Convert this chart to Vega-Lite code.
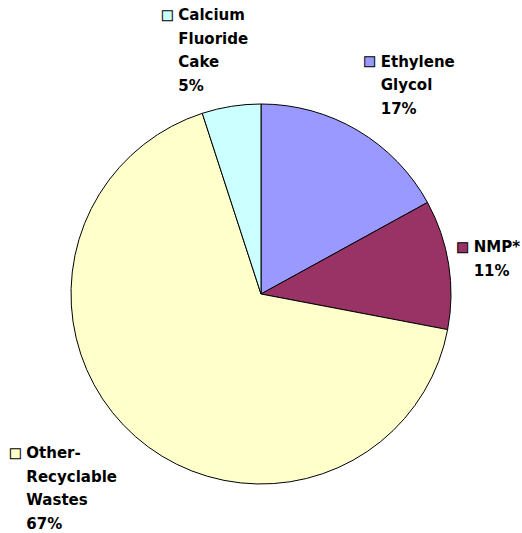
{
  "$schema": "https://vega.github.io/schema/vega-lite/v6.json",
  "width": 522,
  "height": 478,
  "autosize": {"type": "none"},
  "padding": {"top": 55, "left": 0, "right": 0, "bottom": 0},
  "background": "white",
  "config": {"view": {"stroke": null}},
  "data": {
    "values": [
      {"name": "Ethylene\nGlycol", "key": "eg", "value": 17, "order": 1},
      {"name": "NMP*", "key": "nmp", "value": 11, "order": 2},
      {"name": "Other-\nRecyclable\nWastes", "key": "other", "value": 67, "order": 3},
      {"name": "Calcium\nFluoride\nCake", "key": "caf", "value": 5, "order": 4}
    ]
  },
  "transform": [
    {"calculate": "datum.name + '\\n' + datum.value + '%'", "as": "label"}
  ],
  "encoding": {
    "theta": {"field": "value", "type": "quantitative", "stack": true},
    "order": {"field": "order", "type": "quantitative"},
    "color": {
      "field": "key",
      "type": "nominal",
      "scale": {
        "domain": ["eg", "nmp", "other", "caf"],
        "range": ["#9999FF", "#993366", "#FFFFCC", "#CCFFFF"]
      },
      "legend": null
    }
  },
  "layer": [
    {"mark": {"type": "arc", "outerRadius": 190, "stroke": "black", "strokeWidth": 1}},

    {"mark": {"type": "text", "radius": 190, "align": "left", "baseline": "alphabetic", "lineBreak": "\n", "lineHeight": 23.5, "font": "DejaVu Sans", "fontWeight": "bold", "fontSize": 15, "fill": "black", "dx": 23, "dy": -63.5},
     "encoding": {"text": {"condition": {"test": "datum.key === 'eg'", "field": "label"}, "value": ""}, "color": {"value": "black"}}},
    {"mark": {"type": "text", "radius": 190, "align": "left", "baseline": "alphabetic", "lineBreak": "\n", "lineHeight": 23.5, "font": "DejaVu Sans", "fontWeight": "bold", "fontSize": 15, "fill": "black", "dx": 25, "dy": -12},
     "encoding": {"text": {"condition": {"test": "datum.key === 'nmp'", "field": "label"}, "value": ""}, "color": {"value": "black"}}},
    {"mark": {"type": "text", "radius": 190, "align": "left", "baseline": "alphabetic", "lineBreak": "\n", "lineHeight": 23.5, "font": "DejaVu Sans", "fontWeight": "bold", "fontSize": 15, "fill": "black", "dx": -109, "dy": 21.5},
     "encoding": {"text": {"condition": {"test": "datum.key === 'other'", "field": "label"}, "value": ""}, "color": {"value": "black"}}},
    {"mark": {"type": "text", "radius": 190, "align": "left", "baseline": "alphabetic", "lineBreak": "\n", "lineHeight": 23.5, "font": "DejaVu Sans", "fontWeight": "bold", "fontSize": 15, "fill": "black", "dx": -53, "dy": -86},
     "encoding": {"text": {"condition": {"test": "datum.key === 'caf'", "field": "label"}, "value": ""}, "color": {"value": "black"}}},

    {"mark": {"type": "text", "radius": 190, "align": "center", "baseline": "middle", "font": "DejaVu Sans", "fontSize": 13, "stroke": "black", "strokeWidth": 1, "dx": 12, "dy": -69},
     "encoding": {"text": {"condition": {"test": "datum.key === 'eg'", "value": "■"}, "value": ""}}},
    {"mark": {"type": "text", "radius": 190, "align": "center", "baseline": "middle", "font": "DejaVu Sans", "fontSize": 13, "stroke": "black", "strokeWidth": 1, "dx": 14, "dy": -17.5},
     "encoding": {"text": {"condition": {"test": "datum.key === 'nmp'", "value": "■"}, "value": ""}}},
    {"mark": {"type": "text", "radius": 190, "align": "center", "baseline": "middle", "font": "DejaVu Sans", "fontSize": 13, "stroke": "black", "strokeWidth": 1, "dx": -120, "dy": 16},
     "encoding": {"text": {"condition": {"test": "datum.key === 'other'", "value": "■"}, "value": ""}}},
    {"mark": {"type": "text", "radius": 190, "align": "center", "baseline": "middle", "font": "DejaVu Sans", "fontSize": 13, "stroke": "black", "strokeWidth": 1, "dx": -64, "dy": -91.5},
     "encoding": {"text": {"condition": {"test": "datum.key === 'caf'", "value": "■"}, "value": ""}}}
  ]
}
